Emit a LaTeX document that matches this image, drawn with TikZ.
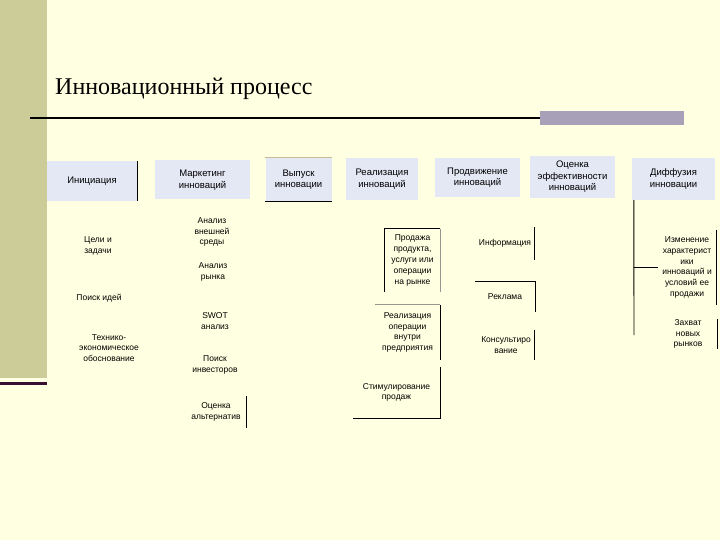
\documentclass[tikz,border=0pt]{standalone}
\usepackage{fontspec}
\setmainfont{Liberation Serif}
\setsansfont{Liberation Sans}
\usepackage{tikz}
\usepackage{xcolor}
\usetikzlibrary{positioning}

\definecolor{slidebg}{RGB}{255,255,225}
\definecolor{stripe}{RGB}{204,204,153}
\definecolor{stripeline}{RGB}{55,15,50}
\definecolor{rulebar}{RGB}{168,160,184}
\definecolor{stagefill}{RGB}{228,231,244}
\definecolor{edgegray}{RGB}{150,150,140}
\definecolor{edgetan}{RGB}{200,190,150}

\newcommand{\stagefont}{\sffamily\fontsize{9.5}{11.5}\selectfont}
\newcommand{\itemfont}{\sffamily\fontsize{8.5}{10.8}\selectfont}

\tikzset{
  stage/.style={fill=stagefill, font=\stagefont, align=center, inner sep=0pt},
  item/.style={font=\itemfont, align=center, inner sep=0pt},
  edge/.style={draw=black, line width=0.9pt},
  softedge/.style={draw=edgegray, line width=0.7pt}
}

\begin{document}
\begin{tikzpicture}[x=1pt,y=-1pt]
  \fill[slidebg] (0,0) rectangle (720,540);
  \useasboundingbox (0,0) rectangle (720,540);
  \fill[stripe] (0,0) rectangle (47,378);
  \fill[stripeline] (0,382) rectangle (47,385);

  \node[font=\fontsize{24}{28}\selectfont, anchor=base west, inner sep=0pt] (title) at (55,95) {Инновационный процесс};
  \draw[line width=2pt] (30,118) -- (540,118);
  \fill[rulebar] (540,111) rectangle (684,125);

  \node[stage, minimum width=90, minimum height=40] (ini) at (92,181) {Инициация};
  \node[stage, minimum width=95, minimum height=39] (mark) at (202.5,180) {Маркетинг\\инноваций};
  \node[stage, minimum width=66, minimum height=44] (vyp) at (298.5,179.5) {Выпуск\\инновации};
  \node[stage, minimum width=72, minimum height=42] (real) at (382,179) {Реализация\\инноваций};
  \node[stage, minimum width=85, minimum height=39] (prod) at (477.5,177.5) {Продвижение\\инноваций};
  \node[stage, minimum width=85, minimum height=42] (ocen) at (572.5,177) {Оценка\\эффективности\\инноваций};
  \node[stage, minimum width=83, minimum height=42] (diff) at (673.5,179) {Диффузия\\инновации};

  \draw[edge] (ini.north east) -- (ini.south east);
  \draw[edge] (vyp.south west) -- (vyp.south east);
  \draw[edgetan, line width=0.8pt] (vyp.north west) -- (vyp.north east);

  \node[item] (goal) at (98,246) {Цели и\\задачи};
  \node[item] (idea) at (99,298) {Поиск идей};
  \node[item] (teo) at (109,348) {Технико-\\экономическое\\обоснование};

  \node[item] (env) at (212,232) {Анализ\\внешней\\среды};
  \node[item] (mkt) at (213,272) {Анализ\\рынка};
  \node[item] (swot) at (215,321) {SWOT\\анализ};
  \node[item] (inv) at (215,365) {Поиск\\инвесторов};
  \node[item, minimum width=60, minimum height=32] (alt) at (216,412) {Оценка\\альтернатив};
  \draw[edge] (alt.north east) -- (alt.south east);

  \node[item, minimum width=55, minimum height=63] (sale) at (412.5,260.5) {Продажа\\продукта,\\услуги или\\операции\\на рынке};
  \draw[edge] (sale.south west) -- (sale.north west) -- (sale.north east);
  \draw[softedge] (sale.north east) -- (sale.south east);
  \node[item, minimum width=65, minimum height=55] (oper) at (407.5,332.5) {Реализация\\операции\\внутри\\предприятия};
  \draw[softedge] (oper.north west) -- (oper.north east);
  \draw[edge] (oper.north east) -- (oper.south east);
  \node[item, minimum width=87, minimum height=51] (stim) at (396.5,392.5) {Стимулирование\\продаж};
  \draw[edge] (stim.north east) -- (stim.south east) -- (stim.south west);

  \node[item, minimum width=58, minimum height=33] (info) at (505,243.5) {Информация};
  \draw[edge] (info.north east) -- (info.south east);
  \node[item, minimum width=60, minimum height=30] (rekl) at (505,297) {Реклама};
  \draw[edge] (rekl.north west) -- (rekl.north east) -- (rekl.south east);
  \node[item, minimum width=56, minimum height=30] (kons) at (506,345) {Консультиро\\вание};
  \draw[edge] (kons.north east) -- (kons.south east);

  \node[item, minimum width=58, minimum height=75] (izm) at (687,267.5) {Изменение\\характерист\\ики\\инноваций и\\условий ее\\продажи};
  \draw[edge] (izm.north east) -- (izm.south east);
  \node[item, minimum width=58, minimum height=28] (zah) at (688,334) {Захват\\новых\\рынков};
  \draw[edge] (zah.north east) -- (zah.south east);

  \coordinate (dtop) at ([xshift=2pt]diff.south west);
  \coordinate (dend) at (634,335);
  \draw[edge] (dtop) -- (dend);
  \draw[edge] (dtop |- izm.west) -- (izm.west);
\end{tikzpicture}
\end{document}
